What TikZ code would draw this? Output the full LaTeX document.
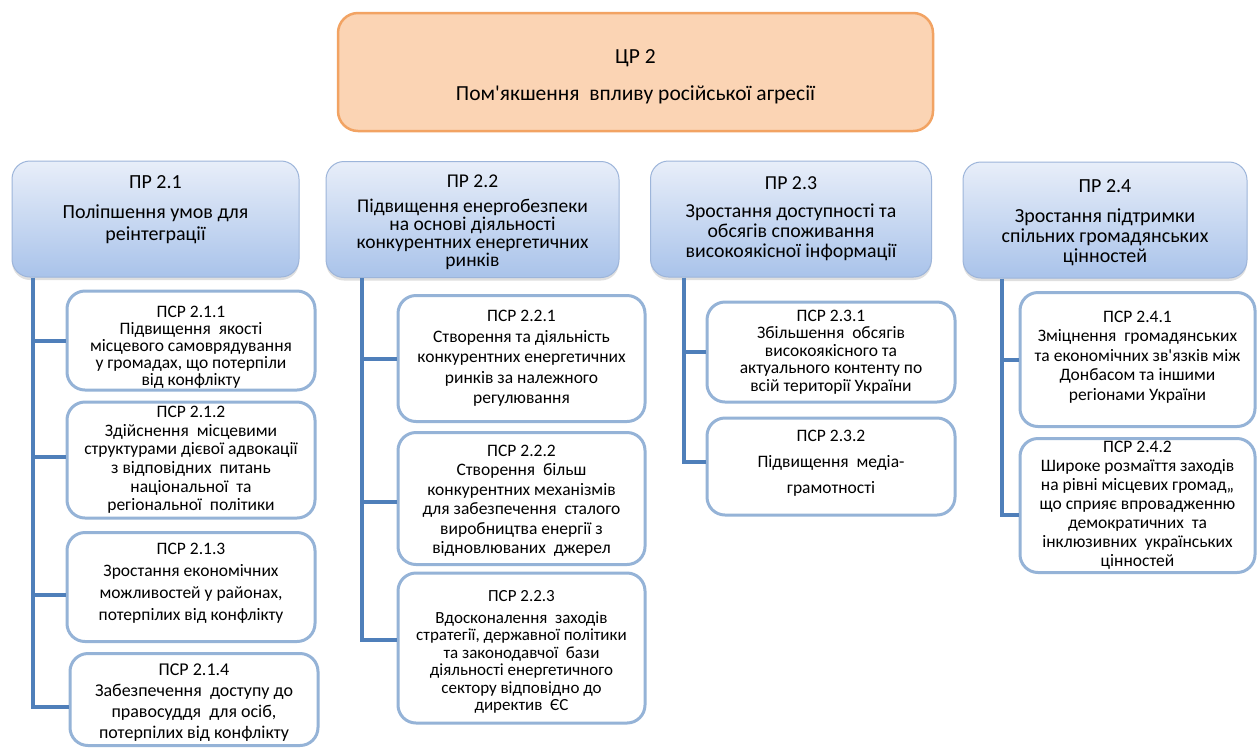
\documentclass[tikz,border=0pt]{standalone}
\usepackage{fontspec}
\setmainfont{Carlito}
\usetikzlibrary{shadows,calc}

\definecolor{orfill}{HTML}{FBD4B4}
\definecolor{ordraw}{HTML}{F2A363}
\definecolor{prtop}{HTML}{E8EEF9}
\definecolor{prbot}{HTML}{A9C3EA}
\definecolor{prdraw}{HTML}{9DB5DA}
\definecolor{subdraw}{HTML}{95B3D7}
\definecolor{linkblue}{HTML}{4F7FBA}

% invisible struts: extra depth on the last line lifts a text block,
% extra height on the first line lowers it
\newcommand{\liftby}[1]{\rule[-#1]{0pt}{0pt}}
\newcommand{\dropby}[1]{\rule{0pt}{#1}}

\tikzset{
  goalbox/.style={draw=ordraw, line width=2.5pt, fill=orfill, rounded corners=20pt,
    align=center, inner sep=0pt, font=\fontsize{21.5}{26}\selectfont},
  prbox/.style={draw=prdraw, line width=1pt, top color=prtop, bottom color=prbot,
    rounded corners=18pt, align=center, inner sep=0pt, font=\fontsize{20}{21}\selectfont,
    drop shadow={shadow xshift=0pt, shadow yshift=-3pt, opacity=0.25}},
  subbox/.style={draw=subdraw, line width=3pt, fill=white, rounded corners=18pt,
    align=center, inner sep=0pt, font=\fontsize{17.5}{19}\selectfont},
  lead/.style={font=\fontsize{17.5}{#1}\selectfont},
  link/.style={draw=linkblue, line width=4pt},
}

\begin{document}
\begin{tikzpicture}[x=1pt, y=-1pt]
\useasboundingbox (0,0) rectangle (1257,748);
\fill[white] (0,0) rectangle (1257,748);

% goal
\node[goalbox, minimum width=595pt, minimum height=118pt] (goal) at (635.5,72)
  {\dropby{23pt}ЦР 2\\[11pt]Пом\textquotesingle якшення\ \ впливу російської агресії};

% priorities
\node[prbox, font=\fontsize{20}{22}\selectfont, minimum width=287pt, minimum height=116pt] (p21) at (155.5,219)
  {ПР 2.1\\[8pt]Поліпшення умов для\\реінтеграції\liftby{21pt}};
\node[prbox, font=\fontsize{19.5}{18}\selectfont, minimum width=293pt, minimum height=116pt] (p22) at (472.5,219.5)
  {\dropby{19pt}ПР 2.2\\[7pt]Підвищення енергобезпеки\\на основі діяльності\\конкурентних енергетичних\\ринків};
\node[prbox, font=\fontsize{19.8}{20}\selectfont, minimum width=281pt, minimum height=116pt] (p23) at (791,219)
  {ПР 2.3\\[8pt]Зростання доступності та\\обсягів споживання\\високоякісної інформації};
\node[prbox, font=\fontsize{20}{20}\selectfont, minimum width=284pt, minimum height=116pt] (p24) at (1105,220)
  {\dropby{19pt}ПР 2.4\\[10pt]Зростання підтримки\\спільних громадянських\\цінностей};

% sub-priorities, column 1
\node[subbox, lead=17, minimum width=248pt, minimum height=99pt] (s211) at (191,340.5)
  {\dropby{25pt}ПСР 2.1.1\\Підвищення\ \ якості\\місцевого самоврядування\\у громадах, що потерпіли\\від конфлікту};
\node[subbox, lead=18.6, minimum width=248pt, minimum height=116pt] (s212) at (191,460)
  {ПСР 2.1.2\\Здійснення\ \ місцевими\\структурами дієвої адвокації\\з відповідних\ \ питань\\національної\ \ та\\регіональної\ \ політики};
\node[subbox, lead=22, minimum width=248pt, minimum height=109pt] (s213) at (191,587)
  {ПСР 2.1.3\\Зростання економічних\\можливостей у районах,\\потерпілих від конфлікту\liftby{11pt}};
\node[subbox, font=\fontsize{18}{21}\selectfont, minimum width=248pt, minimum height=92pt] (s214) at (194,699.5)
  {\dropby{18pt}ПСР 2.1.4\\Забезпечення\ \ доступу до\\правосуддя\ \ для осіб,\\потерпілих від конфлікту};

% column 2
\node[subbox, lead=20.5, minimum width=247pt, minimum height=126pt] (s221) at (521.5,358.5)
  {ПСР 2.2.1\\Створення та діяльність\\конкурентних енергетичних\\ринків за належного\\регулювання};
\node[subbox, lead=19.5, minimum width=247pt, minimum height=132pt] (s222) at (521.5,498.5)
  {\dropby{16pt}ПСР 2.2.2\\Створення\ \ більш\\конкурентних механізмів\\для забезпечення\ \ сталого\\виробництва енергії з\\відновлюваних\ \ джерел};
\node[subbox, font=\fontsize{17}{17.5}\selectfont, minimum width=247pt, minimum height=150pt] (s223) at (521.5,648)
  {\dropby{19pt}ПСР 2.2.3\\[4.5pt]Вдосконалення\ \ заходів\\стратегії, державної політики\\та законодавчої\ \ бази\\діяльності енергетичного\\сектору відповідно до\\директив\ \ ЄС};

% column 3
\node[subbox, lead=17.5, minimum width=248pt, minimum height=100pt] (s231) at (831,352)
  {ПСР 2.3.1\\Збільшення\ \ обсягів\\високоякісного та\\актуального контенту по\\всій території України};
\node[subbox, lead=26, minimum width=248pt, minimum height=97pt] (s232) at (831,466.5)
  {ПСР 2.3.2\\Підвищення\ \ медіа-\\грамотності\liftby{9pt}};

% column 4
\node[subbox, lead=19.5, minimum width=235pt, minimum height=134pt] (s241) at (1137.5,359.5)
  {ПСР 2.4.1\\Зміцнення\ \ громадянських\\та економічних зв\textquotesingle язків між\\Донбасом та іншими\\регіонами України\liftby{7.5pt}};
\node[subbox, lead=19, minimum width=235pt, minimum height=134pt] (s242) at (1137.5,505.5)
  {ПСР 2.4.2\\Широке розмаїття заходів\\на рівні місцевих громад,,\\що сприяє впровадженню\\демократичних\ \ та\\інклюзивних\ \ українських\\цінностей};

% trunk start points under each priority
\coordinate (t21) at ($(p21.south west)+(21,0)$);
\coordinate (t22) at ($(p22.south west)+(36,0)$);
\coordinate (t23) at ($(p23.south west)+(34,0)$);
\coordinate (t24) at ($(p24.south west)+(39,0)$);

% column 1 connectors
\draw[link] (t21) |- ([yshift=-7.5pt]s214.west);
\draw[link] (s211.west -| t21) -- (s211.west);
\draw[link] ([yshift=3pt]s212.west -| t21) -- ([yshift=3pt]s212.west);
\draw[link] ([yshift=-8pt]s213.west -| t21) -- ([yshift=-8pt]s213.west);

% column 2 connectors
\draw[link] (t22) |- ([yshift=8pt]s223.west);
\draw[link] (s221.west -| t22) -- (s221.west);
\draw[link] ([yshift=-3pt]s222.west -| t22) -- ([yshift=-3pt]s222.west);

% column 3 connectors
\draw[link] (t23) |- ([yshift=4.5pt]s232.west);
\draw[link] (s231.west -| t23) -- (s231.west);

% column 4 connectors
\draw[link] (t24) |- ([yshift=-9.5pt]s242.west);
\draw[link] (s241.west -| t24) -- (s241.west);
\end{tikzpicture}
\end{document}
